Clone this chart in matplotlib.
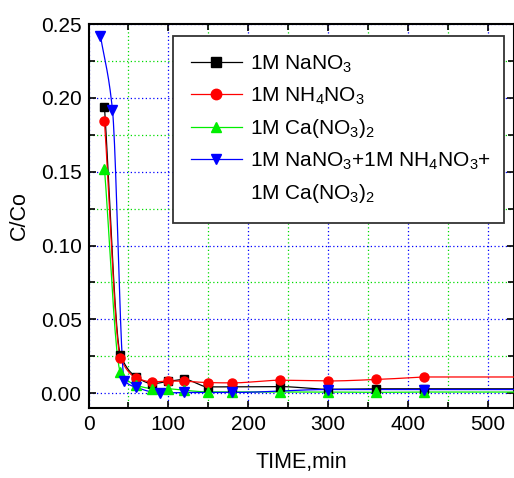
import numpy as np
import matplotlib
matplotlib.use("Agg")
import matplotlib.pyplot as plt
from matplotlib.lines import Line2D
from matplotlib.ticker import MultipleLocator, FormatStrFormatter

plt.rcParams['font.family'] = ['Liberation Sans', 'DejaVu Sans']
plt.rcParams['mathtext.fontset'] = 'custom'
plt.rcParams['mathtext.rm'] = 'Liberation Sans'
plt.rcParams['mathtext.it'] = 'Liberation Sans'

# C/Co versus time for each nitrate eluent
t_na = [20, 40, 60, 80, 100, 120, 150, 180, 240, 300, 360, 420]
c_na = [0.194, 0.026, 0.011, 0.0065, 0.008, 0.0093, 0.0043, 0.0043, 0.0045, 0.0027, 0.003, 0.003]

t_nh4 = [20, 40, 60, 80, 100, 120, 150, 180, 240, 300, 360, 420]
c_nh4 = [0.184, 0.024, 0.0104, 0.0077, 0.0083, 0.0081, 0.0072, 0.007, 0.0088, 0.0083, 0.0093, 0.011]

t_ca = [20, 40, 60, 80, 100, 120, 150, 180, 240, 300, 360, 420]
c_ca = [0.152, 0.0144, 0.0054, 0.0032, 0.003, 0.002, 0.0009, 0.0009, 0.0008, 0.0008, 0.0006, 0.0008]

t_mix = [15, 30, 45, 60, 90, 120, 180, 300, 420]
c_mix = [0.242, 0.192, 0.0085, 0.0039, 0.0002, 0.0005, 0.0005, 0.0025, 0.0025]

labels = [r'1M NaNO$_3$',
          r'1M NH$_4$NO$_3$',
          r'1M Ca(NO$_3$)$_2$',
          r'1M NaNO$_3$+1M NH$_4$NO$_3$+']
label_cont = r'1M Ca(NO$_3$)$_2$'   # second line of the mixed-eluent entry

X_MAX = 533


def pchip(x, y, xs):
    """Monotone cubic (Fritsch-Carlson) curve through the points."""
    x = np.asarray(x, float)
    y = np.asarray(y, float)
    h = np.diff(x)
    d = np.diff(y) / h
    m = np.zeros_like(y)
    for k in range(1, len(x) - 1):
        if d[k - 1] * d[k] > 0:
            w1 = 2 * h[k] + h[k - 1]
            w2 = h[k] + 2 * h[k - 1]
            m[k] = (w1 + w2) / (w1 / d[k - 1] + w2 / d[k])
    m[0] = d[0]
    m[-1] = d[-1]
    out = np.empty_like(xs)
    idx = np.clip(np.searchsorted(x, xs) - 1, 0, len(x) - 2)
    for j, xv in enumerate(xs):
        k = idx[j]
        s = (xv - x[k]) / h[k]
        h00 = 2 * s**3 - 3 * s**2 + 1
        h10 = s**3 - 2 * s**2 + s
        h01 = -2 * s**3 + 3 * s**2
        h11 = s**3 - s**2
        out[j] = h00 * y[k] + h10 * h[k] * m[k] + h01 * y[k + 1] + h11 * h[k] * m[k + 1]
    return out


fig = plt.figure(figsize=(5.14, 4.78), dpi=100)
ax = fig.add_axes([88.5 / 514, 1 - 408 / 478, (514 - 88.5) / 514, 384 / 478])

series = [
    (t_na, c_na, 'black', 's', 6.0),
    (t_nh4, c_nh4, 'red', 'o', 6.5),
    (t_ca, c_ca, '#00ee00', '^', 6.5),
    (t_mix, c_mix, 'blue', 'v', 6.5),
]

handles = []
for (t, c, col, mk, ms), lab in zip(series, labels):
    xs = np.linspace(t[0], t[-1], 600)
    ys = pchip(t, c, xs)
    xs = np.append(xs, X_MAX + 5)
    ys = np.append(ys, c[-1])
    ax.plot(xs, ys, color=col, lw=0.9, zorder=3)
    ax.plot(t, c, linestyle='none', marker=mk, color=col, ms=ms, zorder=4)
    h, = ax.plot([], [], color=col, lw=0.9, marker=mk, ms=ms + 1, label=lab)
    handles.append(h)

blank = Line2D([], [], linestyle='none', marker='none')

ax.set_xlim(0, X_MAX)
ax.set_ylim(-0.01, 0.25)

ax.xaxis.set_major_locator(MultipleLocator(100))
ax.xaxis.set_minor_locator(MultipleLocator(50))
ax.yaxis.set_major_locator(MultipleLocator(0.05))
ax.yaxis.set_minor_locator(MultipleLocator(0.025))
ax.yaxis.set_major_formatter(FormatStrFormatter('%.2f'))

ax.grid(which='major', color='blue', linestyle=(0, (1, 2)), lw=0.9)
ax.grid(which='minor', color='#00dd00', linestyle=(0, (1, 2)), lw=0.9)
ax.set_axisbelow(True)

ax.tick_params(which='both', direction='in', top=True, right=True,
               width=1.2, labelsize=15, pad=5)
ax.tick_params(which='major', length=5)
ax.tick_params(which='minor', length=4)
for sp in ax.spines.values():
    sp.set_linewidth(1.5)

ax.set_xlabel('TIME,min', fontsize=15.5, labelpad=13)
ax.set_ylabel('C/Co', fontsize=15.5, labelpad=8)

leg = ax.legend(handles=handles + [blank], labels=labels + [label_cont],
                loc='upper left', mode='expand',
                bbox_to_anchor=(0.1986, 0.4922, 0.778, 0.4766), fontsize=15,
                frameon=True, fancybox=False, framealpha=1,
                edgecolor='#333333', borderpad=0.85, handlelength=2.45,
                handletextpad=0.4, labelspacing=0.5, borderaxespad=0)
leg.get_frame().set_linewidth(1.3)

fig.savefig('out.png', dpi=100)
